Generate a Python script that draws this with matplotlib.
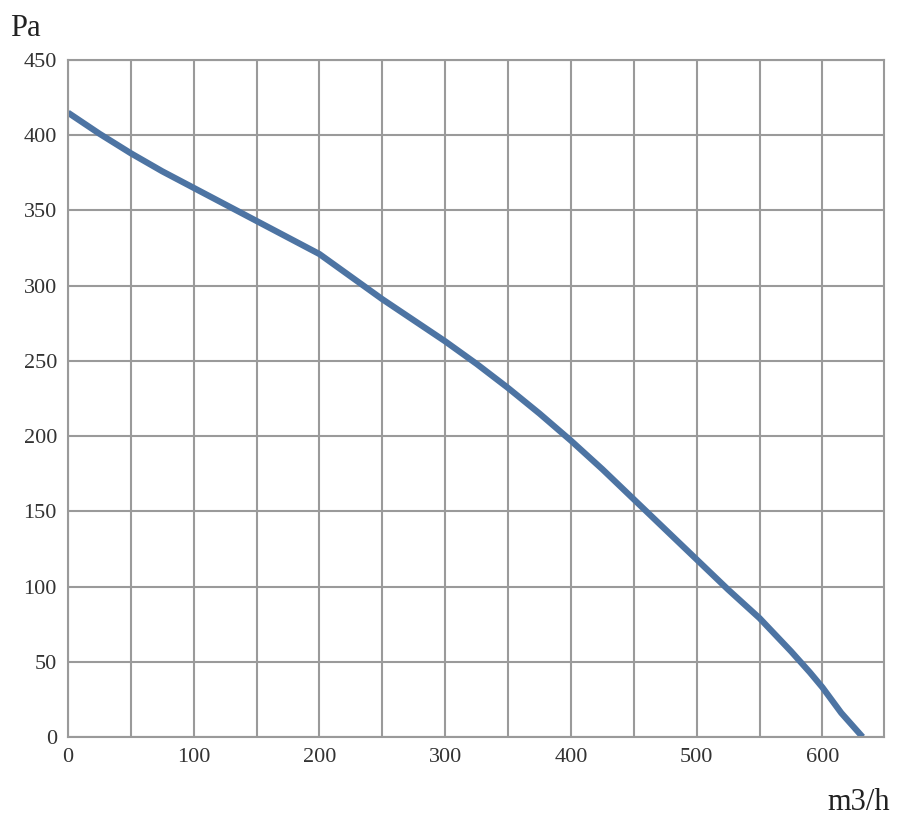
import matplotlib
matplotlib.use("Agg")
import matplotlib.pyplot as plt
import numpy as np

flow = [0, 25, 50, 75, 100, 125, 150, 175, 200, 225, 250, 275, 300, 325, 350,
        375, 400, 425, 450, 475, 500, 525, 550, 575, 590, 600, 615, 632]
pressure = [415, 401, 388, 376, 365, 354, 343, 332, 321, 306, 291, 277, 263, 248, 232,
            215, 197, 178, 158, 138, 118, 98, 79, 57, 43, 33, 16, 0]
xticks = [0, 100, 200, 300, 400, 500, 600]
yticks = [0, 50, 100, 150, 200, 250, 300, 350, 400, 450]

plt.rcParams['font.family'] = ['Liberation Serif', 'DejaVu Serif']
fig = plt.figure(figsize=(9, 8.24), dpi=100)
ax = fig.add_axes([68/900, 1-737/824, (884-68)/900, (737-60)/824])
ax.set_xlim(0, 649)
ax.set_ylim(0, 450)
ax.set_xticks(np.arange(0, 650, 50))
ax.set_xticklabels([str(v) if v in xticks else '' for v in np.arange(0, 650, 50)])
ax.set_yticks(yticks)
ax.grid(True, color='#9a9a9a', linewidth=1.5)
ax.set_axisbelow(True)
for s in ax.spines.values():
    s.set_color('#9a9a9a'); s.set_linewidth(1.5)
ax.tick_params(length=0, labelsize=16, colors='#333333', pad=8)
ax.plot(flow, pressure, color='#4d74a3', linewidth=4.5, solid_capstyle='butt',
        solid_joinstyle='round')
fig.text(10/900, 1-28/824, 'Pa', fontsize=22, va='center', ha='left', color='#222222')
fig.text(890/900, 1-802/824, 'm3/h', fontsize=22, va='center', ha='right', color='#222222')
fig.savefig('out.png', dpi=100)
